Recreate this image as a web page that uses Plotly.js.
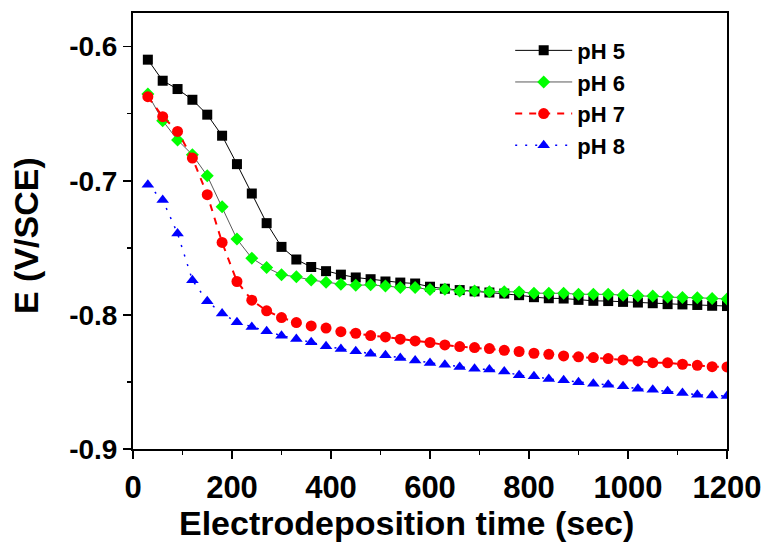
<!DOCTYPE html>
<html>
<head>
<meta charset="utf-8">
<script src="https://cdn.plot.ly/plotly-3.0.1.min.js"></script>
<style>html,body{margin:0;padding:0;background:#fff;}#chart{width:769px;height:543px;}</style>
</head>
<body>
<div id="chart"></div>
<script>
const time = [30,60,90,120,150,180,210,240,270,300,330,360,390,420,450,480,510,540,570,600,
              630,660,690,720,750,780,810,840,870,900,930,960,990,1020,1050,1080,1110,1140,1170,1200];

const pH5 = [-0.6097,-0.6254,-0.6316,-0.6396,-0.6507,-0.6664,-0.6876,-0.7095,-0.7316,-0.7493,
             -0.7587,-0.7643,-0.7674,-0.7700,-0.7721,-0.7734,-0.7751,-0.7759,-0.7766,-0.7790,
             -0.7805,-0.7815,-0.7825,-0.7833,-0.7841,-0.7853,-0.7868,-0.7876,-0.7878,-0.7888,
             -0.7895,-0.7897,-0.7903,-0.7908,-0.7913,-0.7920,-0.7922,-0.7926,-0.7932,-0.7934];

const pH6 = [-0.6353,-0.6552,-0.6696,-0.6806,-0.6963,-0.7193,-0.7435,-0.7577,-0.7647,-0.7701,
             -0.7716,-0.7740,-0.7756,-0.7771,-0.7779,-0.7776,-0.7784,-0.7796,-0.7796,-0.7811,
             -0.7808,-0.7821,-0.7821,-0.7828,-0.7827,-0.7829,-0.7838,-0.7838,-0.7839,-0.7846,
             -0.7846,-0.7847,-0.7853,-0.7858,-0.7859,-0.7866,-0.7871,-0.7872,-0.7878,-0.7882];

const pH7 = [-0.6373,-0.6522,-0.6632,-0.6831,-0.7104,-0.7460,-0.7751,-0.7890,-0.7970,-0.8020,
             -0.8057,-0.8082,-0.8098,-0.8125,-0.8137,-0.8154,-0.8164,-0.8181,-0.8194,-0.8206,
             -0.8224,-0.8236,-0.8244,-0.8251,-0.8264,-0.8273,-0.8286,-0.8294,-0.8306,-0.8313,
             -0.8318,-0.8326,-0.8336,-0.8343,-0.8356,-0.8357,-0.8368,-0.8376,-0.8386,-0.8388];

const pH8 = [-0.7030,-0.7144,-0.7393,-0.7741,-0.7898,-0.7990,-0.8055,-0.8090,-0.8122,-0.8155,
             -0.8180,-0.8204,-0.8234,-0.8254,-0.8271,-0.8289,-0.8301,-0.8321,-0.8341,-0.8358,
             -0.8371,-0.8388,-0.8401,-0.8408,-0.8422,-0.8451,-0.8458,-0.8478,-0.8488,-0.8503,
             -0.8513,-0.8521,-0.8533,-0.8551,-0.8558,-0.8570,-0.8582,-0.8595,-0.8602,-0.8605];

const seriesNames = ['pH 5','pH 6','pH 7','pH 8'];
const xTickVals = [0,200,400,600,800,1000,1200];
const xTickText = ['0','200','400','600','800','1000','1200'];
const yTickVals = [-0.9,-0.8,-0.7,-0.6];
const yTickText = ['-0.9','-0.8','-0.7','-0.6'];
const xTitle = 'Electrodeposition time (sec)';
const yTitle = 'E (V/SCE)';

const FONT = '"Liberation Sans", Arial, sans-serif';
const bold = s => '<b>' + s + '</b>';

const traces = [
  {x: time, y: pH5, name: bold(seriesNames[0]), mode: 'lines+markers',
   line: {color: '#000000', width: 1},
   marker: {symbol: 'square', size: 10, color: '#000000'}},
  {x: time, y: pH6, name: bold(seriesNames[1]), mode: 'lines+markers',
   line: {color: '#5a5a5a', width: 1},
   marker: {symbol: 'diamond', size: 10, color: '#00ff00'}},
  {x: time, y: pH7, name: bold(seriesNames[2]), mode: 'lines+markers',
   line: {color: '#ff0000', width: 2, dash: '7px,7px'},
   marker: {symbol: 'circle', size: 11, color: '#ff0000'}},
  {x: time, y: pH8, name: bold(seriesNames[3]), mode: 'lines+markers',
   line: {color: '#0000ff', width: 1.5, dash: '2px,8px'},
   marker: {symbol: 'triangle-up', size: 11, color: '#0000ff'}}
];

const axisCommon = {
  showgrid: false, zeroline: false, showline: true, linecolor: '#000', linewidth: 2,
  mirror: true, ticks: 'outside', ticklen: 8, tickwidth: 1.5, tickcolor: '#000'
};

const layout = {
  width: 769, height: 543,
  margin: {l: 133, r: 42, t: 13, b: 94},
  paper_bgcolor: '#fff', plot_bgcolor: '#fff',
  showlegend: true,
  xaxis: Object.assign({}, axisCommon, {
    range: [0, 1200], tickmode: 'array', tickvals: xTickVals, ticktext: xTickText.map(bold),
    tickfont: {family: FONT, size: 31, color: '#000'},
    ticklabelstandoff: 2,
    minor: {tickmode: 'linear', tick0: 0, dtick: 100, ticks: 'outside', ticklen: 4, tickwidth: 1.5, tickcolor: '#000'}
  }),
  yaxis: Object.assign({}, axisCommon, {
    range: [-0.9, -0.5749], tickmode: 'array', tickvals: yTickVals, ticktext: yTickText.map(bold),
    tickfont: {family: FONT, size: 28, color: '#000'},
    ticklabelstandoff: 0,
    minor: {tickmode: 'linear', tick0: -0.9, dtick: 0.05, ticks: 'outside', ticklen: 4, tickwidth: 1.5, tickcolor: '#000'}
  }),
  legend: {
    x: 0.635, y: 0.962, xanchor: 'left', yanchor: 'top',
    bgcolor: 'rgba(0,0,0,0)', borderwidth: 0,
    itemwidth: 57,
    font: {family: FONT, size: 22, color: '#000'}
  },
  annotations: [
    {text: bold(xTitle), xref: 'paper', yref: 'paper', x: (406 - 133) / 594, y: -(523 - 449) / 436,
     xanchor: 'center', yanchor: 'middle', showarrow: false,
     font: {family: FONT, size: 34, color: '#000'}},
    {text: bold(yTitle), xref: 'paper', yref: 'paper', x: (26 - 133) / 594, y: (449 - 235) / 436,
     xanchor: 'center', yanchor: 'middle', showarrow: false, textangle: -90,
     font: {family: FONT, size: 34, color: '#000'}}
  ]
};

Plotly.newPlot('chart', traces, layout, {displayModeBar: false, staticPlot: true});
</script>
</body>
</html>
